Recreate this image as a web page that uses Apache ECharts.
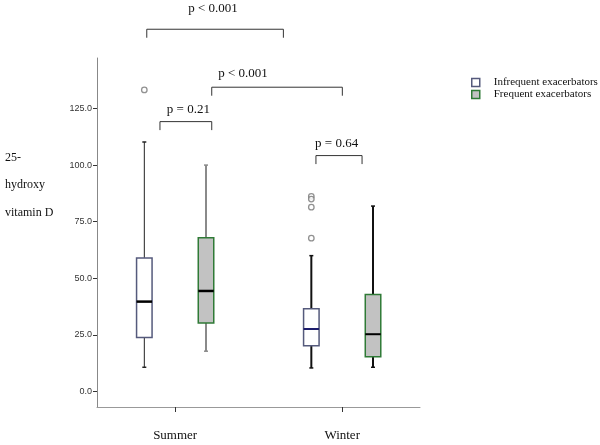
<!DOCTYPE html>
<html><head><meta charset="utf-8">
<script src="https://cdn.jsdelivr.net/npm/echarts@6/dist/echarts.min.js"></script>
<style>html,body{margin:0;padding:0;background:#fff}#c{width:600px;height:445px}</style>
</head><body><div id="c"></div>
<script>
// ---- data ----
const categories = ['Summer', 'Winter'];
const seriesNames = ['Infrequent exacerbators', 'Frequent exacerbators'];
// [min, Q1, median, Q3, max] per category
const infrequentStats = [[10.7, 23.8, 39.7, 59.0, 110.2], [10.4, 20.2, 27.6, 36.6, 60.0]];
const frequentStats = [[17.8, 30.3, 44.4, 67.9, 100.0], [10.7, 15.4, 25.3, 42.8, 81.9]];
// [category index, value]
const infrequentOutliers = [[0, 133.2], [1, 86.2], [1, 85.0], [1, 81.4], [1, 67.7]];
const frequentOutliers = [];
const yTicks = [0, 25, 50, 75, 100, 125];
const yTitleLines = ['25-', 'hydroxy', 'vitamin D'];
// pairwise comparisons (x in category units, Summer = 1, Winter = 2; y in axis units)
const compLabels = ['p < 0.001', 'p < 0.001', 'p = 0.21', 'p = 0.64'];
const compFrom = [0.830, 1.219, 0.909, 1.843];
const compTo = [1.648, 2.001, 1.219, 2.119];
const compY = [160.0, 134.4, 119.2, 104.2];
const compLabelX = [1.227, 1.406, 1.079, 1.967];
const compLabelY = [169.0, 140.5, 124.6, 109.6];

// ---- layout / style ----
const OFFSET = 0.1847;
const BOX_W = 15.5;
const SERIF = 'Liberation Serif, Times New Roman, serif';
const infStyles = [
  { fill: '#ffffff', stroke: '#555a7c', whisker: '#222222', ww: 1, median: '#000000', mw: 2.5 },
  { fill: '#ffffff', stroke: '#555a7c', whisker: '#111111', ww: 2, median: '#1c1c6b', mw: 2 }
];
const frqStyles = [
  { fill: '#c2c2c2', stroke: '#2f7a36', whisker: '#8a8a8a', ww: 2, median: '#000000', mw: 2.5 },
  { fill: '#c2c2c2', stroke: '#2f7a36', whisker: '#111111', ww: 2, median: '#000000', mw: 2 }
];

function boxRender(side, styles) {
  return function (params, api) {
    const i = params.dataIndex;
    const x = api.value(0) + side * OFFSET;
    const cx = api.coord([x, 0])[0];
    const p = [1, 2, 3, 4, 5].map(d => api.coord([x, api.value(d)])[1]);
    const hw = BOX_W / 2;
    const st = styles[i];
    const cap = 2;
    return {
      type: 'group', children: [
        { type: 'line', shape: { x1: cx, y1: p[0], x2: cx, y2: p[1] }, style: { stroke: st.whisker, lineWidth: st.ww } },
        { type: 'line', shape: { x1: cx, y1: p[3], x2: cx, y2: p[4] }, style: { stroke: st.whisker, lineWidth: st.ww } },
        { type: 'line', shape: { x1: cx - cap, y1: p[0], x2: cx + cap, y2: p[0] }, style: { stroke: st.whisker, lineWidth: 1.5 } },
        { type: 'line', shape: { x1: cx - cap, y1: p[4], x2: cx + cap, y2: p[4] }, style: { stroke: st.whisker, lineWidth: 1.5 } },
        { type: 'rect', shape: { x: cx - hw, y: p[3], width: BOX_W, height: p[1] - p[3] }, style: { fill: st.fill, stroke: st.stroke, lineWidth: 1.5 } },
        { type: 'line', shape: { x1: cx - hw, y1: p[2], x2: cx + hw, y2: p[2] }, style: { stroke: st.median, lineWidth: st.mw } }
      ]
    };
  };
}

function compRender(params, api) {
  const x1 = api.coord([api.value(0), api.value(2)]);
  const x2 = api.coord([api.value(1), api.value(2)]);
  const lab = api.coord([api.value(3), api.value(4)]);
  const tick = 8.5;
  return {
    type: 'group', children: [
      { type: 'polyline', shape: { points: [[x1[0], x1[1] + tick], [x1[0], x1[1]], [x2[0], x2[1]], [x2[0], x2[1] + tick]] },
        style: { stroke: '#333', lineWidth: 1, fill: null } },
      { type: 'text', x: lab[0], y: lab[1],
        style: { text: compLabels[params.dataIndex], font: '13px ' + SERIF, fill: '#111', align: 'center', verticalAlign: 'middle' } }
    ]
  };
}

const toBoxData = stats => stats.map((s, i) => [i + 1].concat(s));
const toOutlierData = (list, side) => list.map(o => [o[0] + 1 + side * OFFSET, o[1]]);

const chart = echarts.init(document.getElementById('c'), null, { renderer: 'canvas' });
chart.setOption({
  animation: false,
  backgroundColor: '#fff',
  grid: { left: 97, top: 58, right: 180, bottom: 38, outerBoundsMode: 'none' },
  xAxis: {
    type: 'value', min: 0.532, max: 2.466,
    axisLine: { show: true, onZero: false, lineStyle: { color: '#999', width: 1 } },
    axisTick: { show: true, customValues: [1, 2], length: 5, lineStyle: { color: '#333' } },
    axisLabel: { customValues: [1, 2], margin: 22, formatter: v => categories[Math.round(v) - 1] || '',
      fontFamily: SERIF, fontSize: 13, color: '#111' },
    splitLine: { show: false }
  },
  yAxis: {
    type: 'value', min: -6.85, max: 147.3,
    axisLine: { show: true, onZero: false, lineStyle: { color: '#888', width: 1 } },
    axisTick: { show: true, customValues: yTicks, length: 4, lineStyle: { color: '#333' } },
    axisLabel: { customValues: yTicks, margin: 5, formatter: v => Number(v).toFixed(1),
      fontFamily: 'Liberation Sans, Arial, sans-serif', fontSize: 9, color: '#333' },
    splitLine: { show: false }
  },
  legend: {
    orient: 'vertical', left: 471, top: 77, padding: 0, itemWidth: 8, itemHeight: 8, itemGap: 1,
    selectedMode: false,
    textStyle: { fontFamily: SERIF, fontSize: 11, color: '#111', padding: [0, 0, 0, 9] },
    data: [
      { name: seriesNames[0], icon: 'rect', itemStyle: { color: '#fff', borderColor: '#555a7c', borderWidth: 1.5 } },
      { name: seriesNames[1], icon: 'rect', itemStyle: { color: '#c2c2c2', borderColor: '#2f7a36', borderWidth: 1.5 } }
    ]
  },
  graphic: yTitleLines.map((t, i) => ({
    type: 'text', left: 5, top: 152 + i * 27.3,
    style: { text: t, font: '12px ' + SERIF, fill: '#111' }
  })),
  series: [
    { type: 'custom', name: seriesNames[0], renderItem: boxRender(-1, infStyles), data: toBoxData(infrequentStats),
      encode: { x: 0, y: [1, 2, 3, 4, 5] }, itemStyle: { color: '#fff', borderColor: '#555a7c' }, z: 3 },
    { type: 'custom', name: seriesNames[1], renderItem: boxRender(1, frqStyles), data: toBoxData(frequentStats),
      encode: { x: 0, y: [1, 2, 3, 4, 5] }, itemStyle: { color: '#c2c2c2', borderColor: '#2f7a36' }, z: 3 },
    { type: 'scatter', name: 'out1', data: toOutlierData(infrequentOutliers, -1), symbol: 'circle', symbolSize: 5.5,
      itemStyle: { color: '#fff', borderColor: '#777', borderWidth: 1.3 }, z: 4 },
    { type: 'scatter', name: 'out2', data: toOutlierData(frequentOutliers, 1), symbol: 'circle', symbolSize: 5.5,
      itemStyle: { color: '#fff', borderColor: '#777', borderWidth: 1.3 }, z: 4 },
    { type: 'custom', name: 'comparisons', renderItem: compRender, clip: false,
      data: compLabels.map((l, i) => [compFrom[i], compTo[i], compY[i], compLabelX[i], compLabelY[i]]),
      encode: { x: [0, 1], y: 2 }, z: 5 }
  ]
});
</script></body></html>
